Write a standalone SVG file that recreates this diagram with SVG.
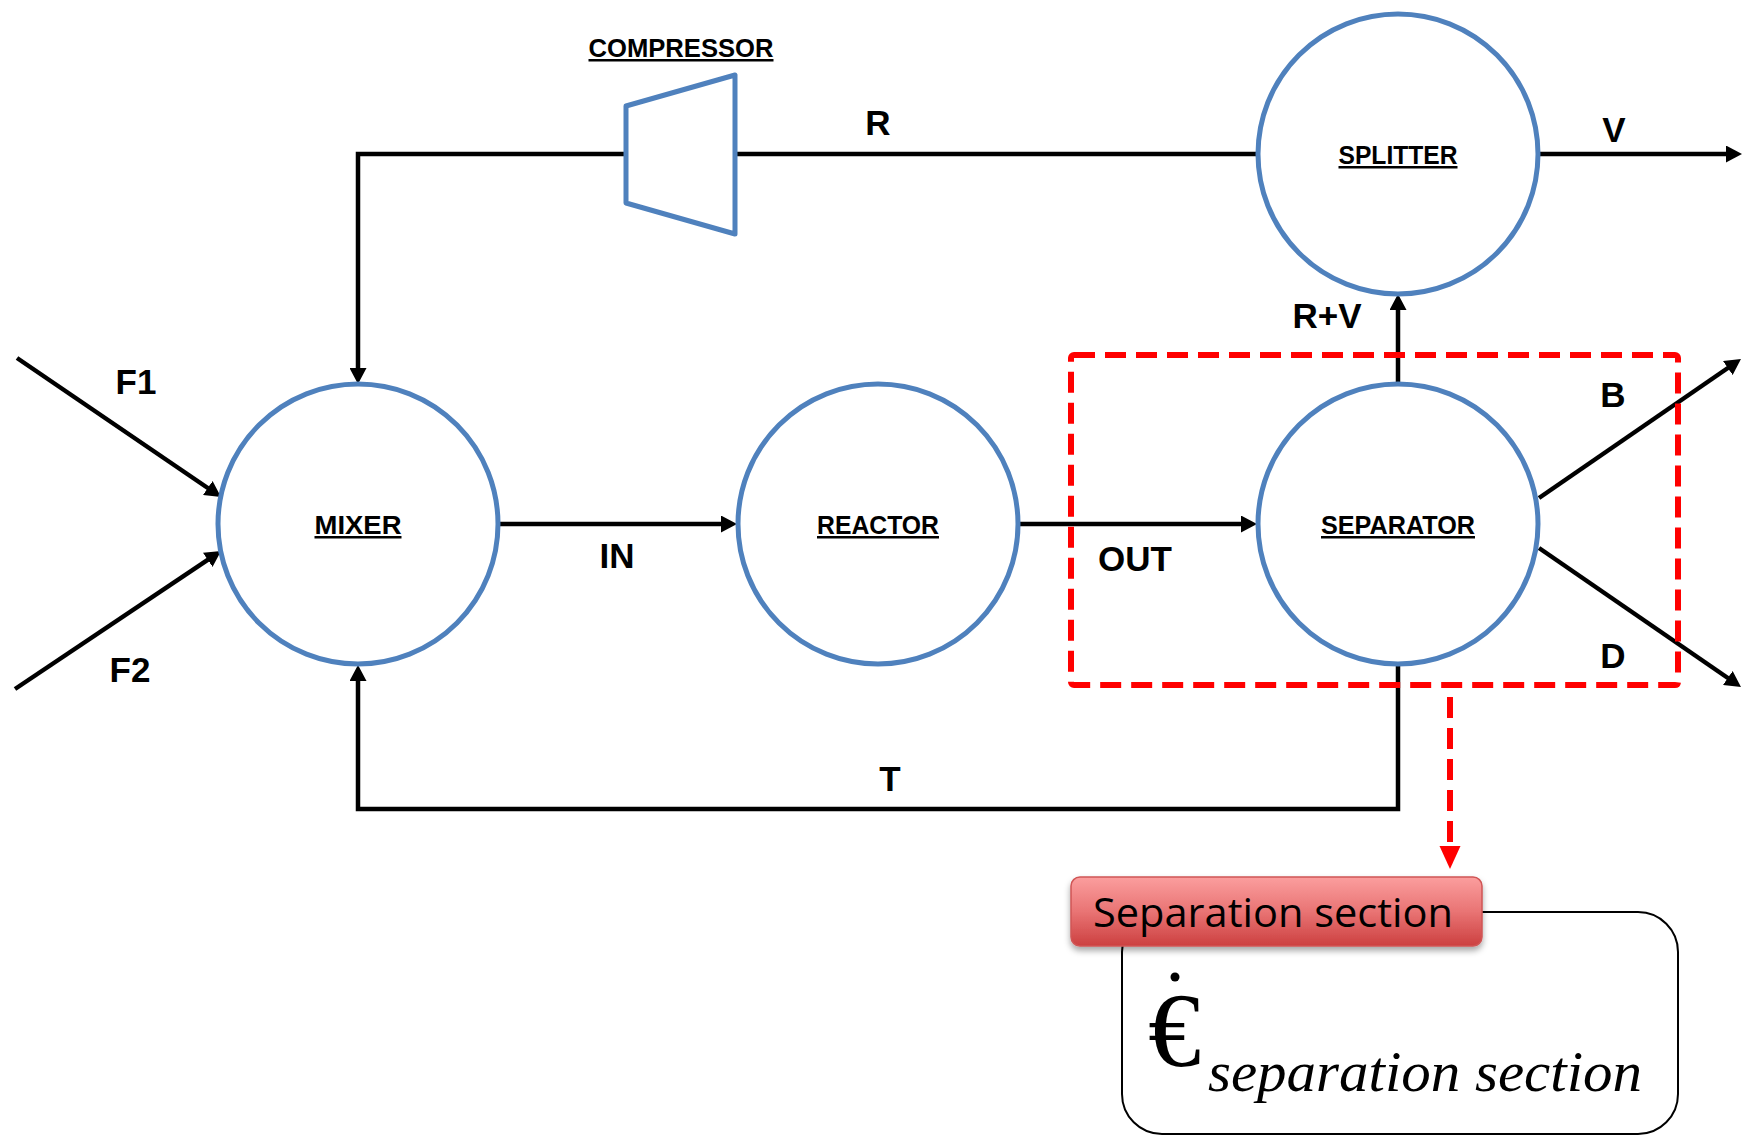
<svg xmlns="http://www.w3.org/2000/svg" width="1749" height="1138" viewBox="0 0 1749 1138">
  <style>
    .unit { fill: #ffffff; stroke: #4F81BD; stroke-width: 5; }
    .conn { fill: none; stroke: #000000; stroke-width: 4.5; stroke-linejoin: miter; }
    .arr { marker-end: url(#ah); }
    .nlabel { font-family: "Liberation Sans", Arial, sans-serif; font-weight: bold; font-size: 25px; text-anchor: middle; text-decoration: underline; fill: #000; }
    .slabel { font-family: "Liberation Sans", Arial, sans-serif; font-weight: bold; font-size: 35px; text-anchor: middle; fill: #000; }
    .reddash { fill: none; stroke: #FF0000; stroke-width: 6; stroke-dasharray: 21 10; }
  </style>
  <defs>
    <marker id="ah" markerUnits="userSpaceOnUse" markerWidth="16" markerHeight="17" refX="8" refY="8.5" orient="auto">
      <path d="M0,0 L16,8.5 L0,17 z" fill="#000"/>
    </marker>
    <linearGradient id="redgrad" x1="0" y1="0" x2="0" y2="1">
      <stop offset="0" stop-color="#FB9E9E"/>
      <stop offset="0.5" stop-color="#E97474"/>
      <stop offset="1" stop-color="#CC4040"/>
    </linearGradient>
    <filter id="shadow" x="-5%" y="-20%" width="110%" height="160%">
      <feDropShadow dx="0" dy="4" stdDeviation="3" flood-color="#000" flood-opacity="0.35"/>
    </filter>
  </defs>

  <rect x="0" y="0" width="1749" height="1138" fill="#ffffff"/>

  <!-- connectors -->
  <g id="connectors">
    <path class="conn arr" d="M626,154 H358 V376"/>
    <line class="conn" x1="735" y1="154" x2="1258" y2="154"/>
    <line class="conn arr" x1="1538" y1="154" x2="1734" y2="154"/>
    <line class="conn arr" x1="1398" y1="384" x2="1398" y2="302"/>
    <line class="conn arr" x1="17" y1="358" x2="214.4" y2="492.5"/>
    <line class="conn arr" x1="15" y1="689" x2="214.4" y2="555.4"/>
    <line class="conn arr" x1="498" y1="524" x2="729" y2="524"/>
    <line class="conn arr" x1="1018" y1="524" x2="1249" y2="524"/>
    <line class="conn arr" x1="1539" y1="498" x2="1734.4" y2="363.5"/>
    <line class="conn arr" x1="1539" y1="548" x2="1734.4" y2="682.5"/>
    <path class="conn arr" d="M1398,664 V809 H358 V673"/>
  </g>

  <!-- nodes -->
  <g id="compressor">
    <polygon class="unit" points="626,106 735,75 735,234 626,203" stroke-linejoin="round"/>
    <text class="nlabel" x="681" y="57" textLength="185" lengthAdjust="spacingAndGlyphs">COMPRESSOR</text>
  </g>
  <g id="mixer">
    <circle class="unit" cx="358" cy="524" r="140"/>
    <text class="nlabel" x="358" y="534" textLength="87" lengthAdjust="spacingAndGlyphs">MIXER</text>
  </g>
  <g id="reactor">
    <circle class="unit" cx="878" cy="524" r="140"/>
    <text class="nlabel" x="878" y="534" textLength="122" lengthAdjust="spacingAndGlyphs">REACTOR</text>
  </g>
  <g id="separator">
    <circle class="unit" cx="1398" cy="524" r="140"/>
    <text class="nlabel" x="1398" y="534" textLength="154" lengthAdjust="spacingAndGlyphs">SEPARATOR</text>
  </g>
  <g id="splitter">
    <circle class="unit" cx="1398" cy="154" r="140"/>
    <text class="nlabel" x="1398" y="164" textLength="119" lengthAdjust="spacingAndGlyphs">SPLITTER</text>
  </g>

  <!-- stream labels -->
  <g id="stream-labels">
    <text class="slabel" x="136" y="394">F1</text>
    <text class="slabel" x="130" y="682">F2</text>
    <text class="slabel" x="617" y="568">IN</text>
    <text class="slabel" x="1135" y="571">OUT</text>
    <text class="slabel" x="878" y="135">R</text>
    <text class="slabel" x="1614" y="142">V</text>
    <text class="slabel" x="1327" y="328">R+V</text>
    <text class="slabel" x="1613" y="407">B</text>
    <text class="slabel" x="1613" y="668">D</text>
    <text class="slabel" x="890" y="791">T</text>
  </g>

  <!-- separation section boundary -->
  <g id="separation-boundary">
    <rect class="reddash" x="1071" y="355" width="607" height="330" rx="3"/>
    <line class="reddash" x1="1450" y1="697" x2="1450" y2="846"/>
    <path d="M1439.5,846 L1460.5,846 L1450,869 z" fill="#FF0000"/>
  </g>

  <!-- separation section cost box -->
  <g id="cost-box">
    <rect x="1122" y="912" width="556" height="222" rx="40" fill="#ffffff" stroke="#000" stroke-width="2"/>
    <text x="1148" y="1066" font-family="Liberation Serif, 'Times New Roman', serif" font-size="106" fill="#000">€</text>
    <circle cx="1175" cy="977" r="4.5" fill="#000"/>
    <text x="1208" y="1091" font-family="Liberation Serif, 'Times New Roman', serif" font-style="italic" font-size="56" fill="#000" textLength="434" lengthAdjust="spacingAndGlyphs">separation section</text>
  </g>
  <g id="separation-section-label">
    <rect x="1071" y="877" width="411" height="69" rx="9" fill="url(#redgrad)" stroke="#D05555" stroke-width="1.5" filter="url(#shadow)"/>
    <text x="1093" y="927" font-family="'Open Sans', 'Liberation Sans', sans-serif" font-size="41" fill="#000" textLength="360" lengthAdjust="spacingAndGlyphs">Separation section</text>
  </g>
</svg>
